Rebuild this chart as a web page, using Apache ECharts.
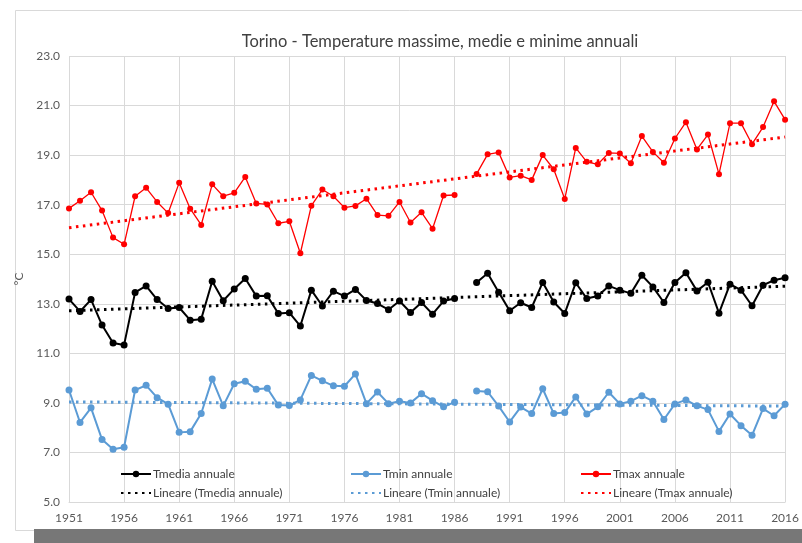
<!DOCTYPE html>
<html>
<head>
<meta charset="UTF-8">
<title>Torino - Temperature</title>
<style>
body {
    padding:0;
    border:0;
    margin:0;
    background:#fff;
}
</style>
<script src="https://cdn.jsdelivr.net/npm/echarts@6/dist/echarts.min.js"></script>
</head>
<body>
<div id="main" style="width:802px;height:543px;"></div>
<script>
// anni 1951-2016 (il 1987 manca)
var years = [];
for (var y = 1951; y <= 2016; y++) years.push(String(y));

var tmax = [16.85, 17.16, 17.5, 16.76, 15.67, 15.4, 17.34, 17.68, 17.11, 16.66,
            17.88, 16.84, 16.18, 17.82, 17.34, 17.48, 18.12, 17.05, 17.01, 16.25,
            16.33, 15.04, 16.96, 17.61, 17.34, 16.88, 16.95, 17.24, 16.58, 16.55,
            17.11, 16.28, 16.69, 16.03, 17.37, 17.39, null, 18.24, 19.03, 19.11,
            18.1, 18.17, 18.0, 19.0, 18.43, 17.23, 19.29, 18.73, 18.63, 19.09,
            19.07, 18.67, 19.77, 19.13, 18.69, 19.67, 20.33, 19.23, 19.83, 18.23,
            20.29, 20.29, 19.44, 20.13, 21.17, 20.43];

var tmedia = [13.19, 12.69, 13.17, 12.14, 11.42, 11.34, 13.46, 13.72, 13.17, 12.81,
              12.85, 12.34, 12.38, 13.91, 13.12, 13.6, 14.02, 13.31, 13.32, 12.61,
              12.64, 12.1, 13.55, 12.91, 13.51, 13.31, 13.58, 13.13, 13.01, 12.76,
              13.11, 12.65, 13.05, 12.58, 13.11, 13.21, null, 13.86, 14.23, 13.47,
              12.72, 13.04, 12.85, 13.86, 13.07, 12.61, 13.85, 13.21, 13.31, 13.72,
              13.55, 13.42, 14.15, 13.68, 13.05, 13.86, 14.25, 13.52, 13.87, 12.62,
              13.79, 13.55, 12.92, 13.75, 13.95, 14.05];

var tmin = [9.52, 8.21, 8.8, 7.52, 7.13, 7.21, 9.52, 9.71, 9.21, 8.95,
            7.81, 7.84, 8.57, 9.96, 8.88, 9.77, 9.87, 9.55, 9.59, 8.91,
            8.89, 9.12, 10.11, 9.89, 9.69, 9.67, 10.17, 8.97, 9.44, 8.97,
            9.07, 9.0, 9.37, 9.09, 8.84, 9.03, null, 9.48, 9.45, 8.87,
            8.23, 8.83, 8.57, 9.57, 8.57, 8.61, 9.24, 8.55, 8.84, 9.43,
            8.96, 9.07, 9.29, 9.07, 8.33, 8.96, 9.12, 8.88, 8.73, 7.85,
            8.55, 8.08, 7.69, 8.77, 8.48, 8.95];

// linee di tendenza (valore 1951, valore 2016)
var tmaxTrend = [16.07, 19.73];
var tmediaTrend = [12.72, 13.71];
var tminTrend = [9.04, 8.87];

var FONT = 'Lato';

function trendData(t) {
    return [[years[0], t[0]], [years[years.length - 1], t[1]]];
}

var myChart = echarts.init(document.getElementById('main'));

function legendCol(left, name, trendName) {
    return {
        left: left,
        top: 463,
        orient: 'vertical',
        itemWidth: 30,
        itemHeight: 8,
        itemGap: 7,
        data: [
            name,
            { name: trendName, itemStyle: { opacity: 0 } }   // solo linea, niente pallino
        ],
        textStyle: { fontFamily: FONT, fontSize: 12, color: '#404040', padding: [0, 0, 0, -3] },
        selectedMode: false
    };
}

var option = {
    animation: false,
    backgroundColor: '#fff',
    textStyle: { fontFamily: FONT },
    graphic: [
        { type: 'rect', left: 13, top: 8, shape: { width: 800, height: 520 },
          style: { fill: 'none', stroke: '#d9d9d9', lineWidth: 1 }, z: -10 },
        { type: 'rect', left: 34, top: 529, shape: { width: 768, height: 14 },
          style: { fill: '#777777' }, z: -10 }
    ],
    title: {
        text: 'Torino - Temperature massime, medie e minime annuali',
        left: 435,
        textAlign: 'center',
        top: 28,
        textStyle: { fontFamily: FONT, fontSize: 16.5, fontWeight: 'normal', color: '#404040' }
    },
    legend: [
        legendCol(115, 'Tmedia annuale', 'Lineare (Tmedia annuale)'),
        legendCol(345, 'Tmin annuale', 'Lineare (Tmin annuale)'),
        legendCol(575, 'Tmax annuale', 'Lineare (Tmax annuale)')
    ],
    grid: { left: 69, right: 16, top: 56, bottom: 41 },
    xAxis: {
        type: 'category',
        data: years,
        boundaryGap: false,
        axisLine: { lineStyle: { color: '#d9d9d9' } },
        axisTick: { show: false },
        axisLabel: { interval: 4, color: '#595959', fontSize: 12, fontFamily: FONT, margin: 10 },
        splitLine: { show: true, interval: 4, lineStyle: { color: '#d9d9d9' } }
    },
    yAxis: {
        type: 'value',
        min: 5,
        max: 23,
        interval: 2,
        name: '°C',
        nameLocation: 'middle',
        nameGap: 42,
        nameRotate: 90,
        nameTextStyle: { color: '#595959', fontSize: 12, fontFamily: FONT },
        axisLine: { show: false },
        axisTick: { show: false },
        axisLabel: {
            color: '#595959', fontSize: 12, fontFamily: FONT, margin: 9,
            formatter: function (v) { return v.toFixed(1); }
        },
        splitLine: { lineStyle: { color: '#d9d9d9' } }
    },
    series: [
        { name: 'Tmedia annuale', type: 'line', data: tmedia, symbol: 'circle', symbolSize: 7,
          color: '#000', lineStyle: { width: 2, color: '#000' }, itemStyle: { color: '#000' }, z: 5 },
        { name: 'Lineare (Tmedia annuale)', type: 'line', data: trendData(tmediaTrend), symbol: 'none',
          color: '#000', lineStyle: { width: 3, color: '#000', type: [2.5, 4.5] }, z: 3 },
        { name: 'Tmin annuale', type: 'line', data: tmin, symbol: 'circle', symbolSize: 7,
          color: '#5b9bd5', lineStyle: { width: 2, color: '#5b9bd5' }, itemStyle: { color: '#5b9bd5' }, z: 5 },
        { name: 'Lineare (Tmin annuale)', type: 'line', data: trendData(tminTrend), symbol: 'none',
          color: '#5b9bd5', lineStyle: { width: 3, color: '#5b9bd5', type: [2.5, 4.5] }, z: 3 },
        { name: 'Tmax annuale', type: 'line', data: tmax, symbol: 'circle', symbolSize: 6,
          color: '#ff0000', lineStyle: { width: 1.3, color: '#ff0000' }, itemStyle: { color: '#ff0000' }, z: 5 },
        { name: 'Lineare (Tmax annuale)', type: 'line', data: trendData(tmaxTrend), symbol: 'none',
          color: '#ff0000', lineStyle: { width: 3, color: '#ff0000', type: [2.5, 4.5] }, z: 3 }
    ]
};

myChart.setOption(option);
</script>
</body>
</html>
